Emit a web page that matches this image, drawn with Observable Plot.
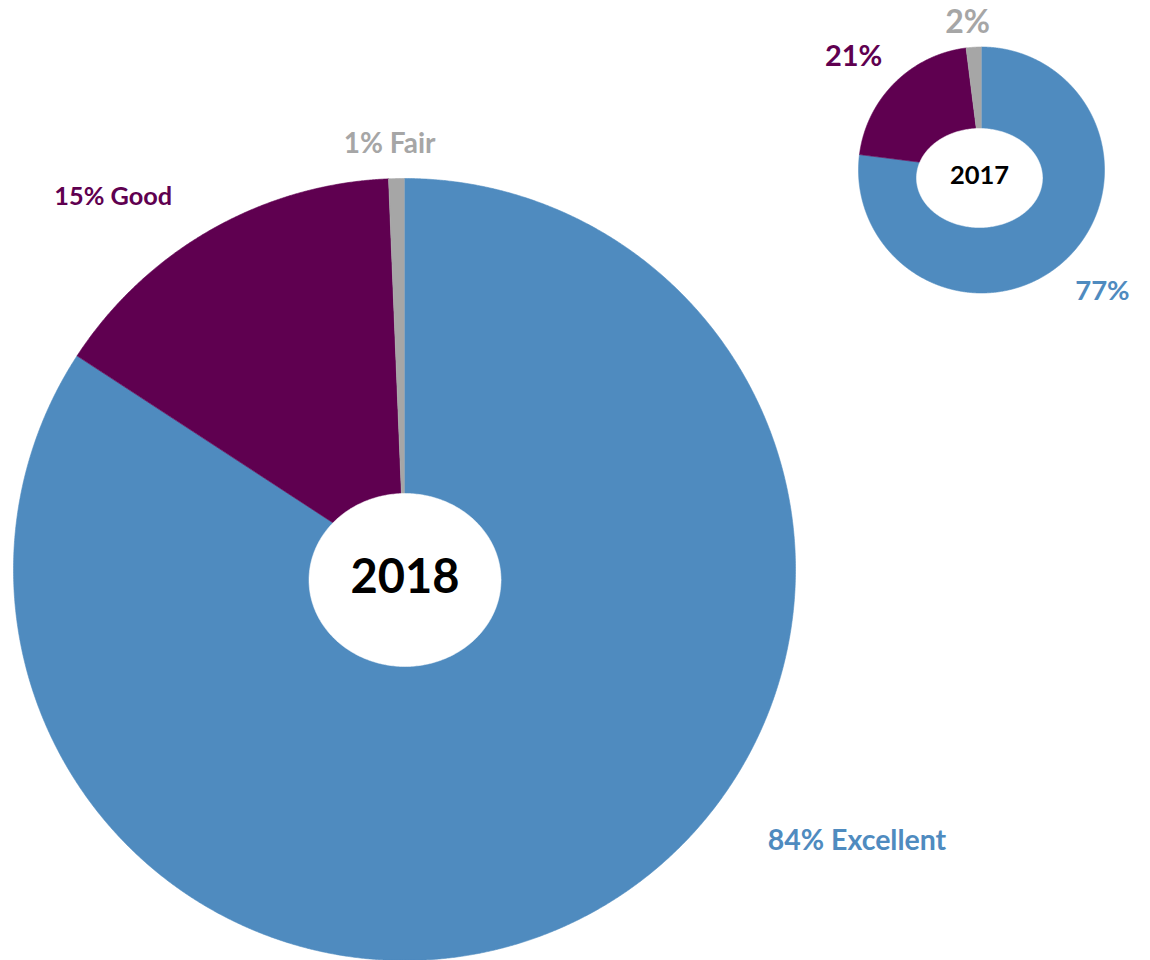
<!DOCTYPE html>
<html><head><meta charset="utf-8">
<script src="https://cdn.jsdelivr.net/npm/d3@7"></script>
<script src="https://cdn.jsdelivr.net/npm/@observablehq/plot@0.6"></script>
<style>body{margin:0;background:#fff;} svg{display:block;}</style>
</head><body><div id="chart"></div>
<script>
// ---- data ----
const categories = ["Excellent", "Good", "Fair"];
const colors = ["#4F8BBF", "#5F0050", "#A6A6A6"];
const years = ["2018", "2017"];
const values2018 = [84.2, 15.15, 0.65];
const values2017 = [77, 21, 2];
const labels2018 = ["84% Excellent", "15% Good", "1% Fair"];
const labels2017 = ["77%", "21%", "2%"];

// ---- layout (pixels) ----
const layout = {
  "2018": {cx: 404, cy: 569, r: 391, hx: 404.5, hy: 579.5, hrx: 96, hry: 86.5, yearSize: 47,
           labelAngle: [121, 322, 358], labelDist: [1.35, 1.21, 1.09], labelSize: [28.5, 25.3, 28]},
  "2017": {cx: 981, cy: 169.5, r: 123, hx: 979, hy: 177.5, hrx: 63, hry: 49.5, yearSize: 25.5,
           labelAngle: [135, 311.6, 354.6], labelDist: [1.39, 1.39, 1.2], labelSize: [27.5, 29, 32]}
};
const valuesByYear = {"2018": values2018, "2017": values2017};
const labelsByYear = {"2018": labels2018, "2017": labels2017};

const sliceRows = [];
const holeRows = [];
const labelRows = [];
const yearRows = [];
for (const year of years) {
  const L = layout[year];
  const arcs = d3.pie().sort(null).value(d => d)(valuesByYear[year]);
  arcs.forEach((a, i) => {
    const key = year + "-" + categories[i];
    sliceRows.push({key, category: categories[i], x: L.cx, y: L.cy});
    const n = Math.max(2, Math.ceil((a.endAngle - a.startAngle) / 0.004));
    for (let k = 0; k <= n; k++) {
      const t = a.startAngle + (a.endAngle - a.startAngle) * k / n;
      sliceRows.push({key, category: categories[i], x: L.cx + L.r * Math.sin(t), y: L.cy - L.r * Math.cos(t)});
    }
    const la = L.labelAngle[i] * Math.PI / 180;
    labelRows.push({category: categories[i], text: labelsByYear[year][i], size: L.labelSize[i],
      x: L.cx + L.r * L.labelDist[i] * Math.sin(la), y: L.cy - L.r * L.labelDist[i] * Math.cos(la)});
  });
  for (let k = 0; k <= 360; k++) {
    const t = k * Math.PI / 180;
    holeRows.push({year, x: L.hx + L.hrx * Math.cos(t), y: L.hy + L.hry * Math.sin(t)});
  }
  yearRows.push({year, x: L.hx, y: L.hy - 2, size: L.yearSize});
}

const chart = Plot.plot({
  width: 1150, height: 960,
  margin: 0,
  x: {domain: [0, 1150], range: [0, 1150], axis: null},
  y: {domain: [0, 960], range: [0, 960], axis: null},
  color: {domain: categories, range: colors},
  style: {fontFamily: "Lato, 'Open Sans', sans-serif", background: "#fff"},
  marks: [
    Plot.line(sliceRows, {x: "x", y: "y", z: "key", fill: "category", stroke: "category", strokeWidth: 0.6}),
    Plot.line(holeRows, {x: "x", y: "y", z: "year", fill: "white", stroke: "white", strokeWidth: 0.5}),
    Plot.text(yearRows, {x: "x", y: "y", text: "year", fontSize: "size", fontWeight: "bold", fill: "black"}),
    Plot.text(labelRows, {x: "x", y: "y", text: "text", fontSize: "size", fontWeight: "bold", fill: "category"})
  ]
});
document.getElementById("chart").appendChild(chart);
</script>
</body></html>
